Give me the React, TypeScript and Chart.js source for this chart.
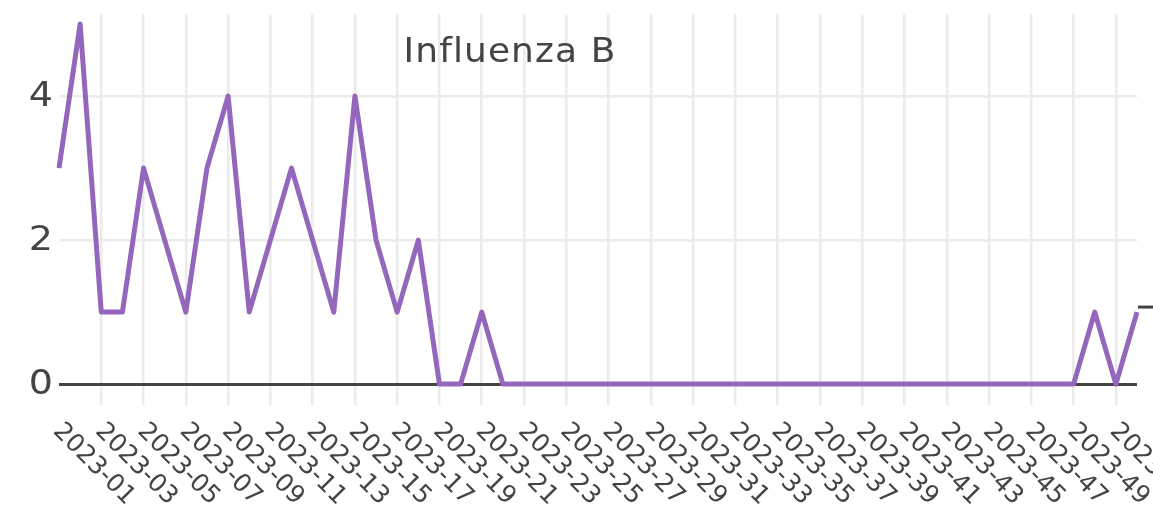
import React, { useEffect, useRef } from 'react';
import { Chart, registerables } from 'chart.js';

Chart.register(...registerables);

const weeks = [
  '2023-00', '2023-01', '2023-02', '2023-03', '2023-04', '2023-05', '2023-06', '2023-07',
  '2023-08', '2023-09', '2023-10', '2023-11', '2023-12', '2023-13', '2023-14', '2023-15',
  '2023-16', '2023-17', '2023-18', '2023-19', '2023-20', '2023-21', '2023-22', '2023-23',
  '2023-24', '2023-25', '2023-26', '2023-27', '2023-28', '2023-29', '2023-30', '2023-31',
  '2023-32', '2023-33', '2023-34', '2023-35', '2023-36', '2023-37', '2023-38', '2023-39',
  '2023-40', '2023-41', '2023-42', '2023-43', '2023-44', '2023-45', '2023-46', '2023-47',
  '2023-48', '2023-49', '2023-50', '2023-51',
];

const influenzaB = [
  3, 5, 1, 1, 3, 2, 1, 3, 4, 1, 2, 3, 2, 1, 4, 2,
  1, 2, 0, 0, 1, 0, 0, 0, 0, 0, 0, 0, 0, 0, 0, 0,
  0, 0, 0, 0, 0, 0, 0, 0, 0, 0, 0, 0, 0, 0, 0, 0,
  0, 1, 0, 1,
];

const yTickValues = [0, 2, 4];
const yMin = -0.29;
const yMax = 5.14;
const chartTitle = 'Influenza B';
const neighbourAxisValue = 1.07;

const TEXT = '#444';
const FONT = '"DejaVu Sans", Verdana, sans-serif';

const overlayPlugin = {
  id: 'overlay',
  afterDraw(chart: any) {
    const ctx = chart.ctx;
    const xs = chart.scales.x;
    const ys = chart.scales.y;
    const ca = chart.chartArea;
    ctx.save();
    ctx.fillStyle = TEXT;
    // rotated x tick labels (every other week)
    ctx.font = `25px ${FONT}`;
    ctx.textAlign = 'left';
    ctx.textBaseline = 'alphabetic';
    weeks.forEach((w, i) => {
      if (i % 2 !== 1) return;
      const x = xs.getPixelForValue(i);
      ctx.save();
      ctx.translate(x - 28, ca.bottom + 27);
      ctx.rotate(Math.PI / 4);
      ctx.fillText(w, 0, 0);
      ctx.restore();
    });
    // y tick labels
    ctx.font = `34px ${FONT}`;
    ctx.textAlign = 'right';
    ctx.textBaseline = 'middle';
    yTickValues.forEach((v) => {
      const y = ys.getPixelForValue(v);
      ctx.save();
      ctx.translate(ca.left - 6, y + 1);
      ctx.scale(1.12, 1);
      ctx.fillText(String(v), 0, 0);
      ctx.restore();
    });
    // title
    ctx.font = `33px ${FONT}`;
    ctx.textAlign = 'center';
    ctx.textBaseline = 'alphabetic';
    ctx.save();
    ctx.translate(510, 62);
    ctx.scale(1.09, 1);
    if ('letterSpacing' in ctx) (ctx as any).letterSpacing = '1px';
    ctx.fillText(chartTitle, 0, 0);
    ctx.restore();
    // neighbouring subplot axis fragment at the right edge
    const yy = ys.getPixelForValue(neighbourAxisValue);
    ctx.strokeStyle = TEXT;
    ctx.lineWidth = 3;
    ctx.beginPath();
    ctx.moveTo(ca.right + 1, yy);
    ctx.lineTo(chart.width, yy);
    ctx.stroke();
    ctx.restore();
  },
};

export default function App() {
  const ref = useRef<HTMLCanvasElement>(null);

  useEffect(() => {
    if (!ref.current) return;
    const chart = new Chart(ref.current, {
      type: 'line',
      data: {
        labels: weeks,
        datasets: [
          {
            label: chartTitle,
            data: influenzaB,
            borderColor: '#9467bd',
            backgroundColor: '#9467bd',
            borderWidth: 5,
            borderJoinStyle: 'round',
            pointRadius: 0,
            pointHoverRadius: 0,
            tension: 0,
            fill: false,
          },
        ],
      },
      options: {
        animation: false,
        responsive: false,
        devicePixelRatio: 1,
        layout: { padding: { top: 14, right: 16, left: 0, bottom: 0 } },
        plugins: {
          legend: { display: false },
          title: { display: false },
          tooltip: { enabled: false },
        },
        scales: {
          x: {
            type: 'category',
            z: -1,
            offset: false,
            border: { display: false },
            grid: {
              drawTicks: false,
              color: (c: any) => (c.index % 2 === 0 && c.index > 0 ? '#ebebeb' : 'rgba(0,0,0,0)'),
              lineWidth: 2.5,
            },
            ticks: { display: false, autoSkip: false },
            afterFit: (s: any) => {
              s.height = 114;
              s.paddingLeft = 0;
              s.paddingRight = 0;
            },
          },
          y: {
            min: yMin,
            max: yMax,
            border: { display: false },
            grid: {
              drawTicks: false,
              color: (c: any) => (c.tick && c.tick.value === 0 ? TEXT : '#ebebeb'),
              lineWidth: (c: any) => (c.tick && c.tick.value === 0 ? 3 : 2.5),
            },
            ticks: { display: false },
            afterBuildTicks: (s: any) => {
              s.ticks = yTickValues.map((v) => ({ value: v }));
            },
            afterFit: (s: any) => {
              s.width = 59;
              s.paddingTop = 0;
              s.paddingBottom = 0;
            },
          },
        },
      },
      plugins: [overlayPlugin],
    });
    return () => chart.destroy();
  }, []);

  return (
    <div style={{ position: 'fixed', left: 0, top: 0, width: 1153, height: 519, background: '#fff' }}>
      <canvas ref={ref} width={1153} height={519} style={{ width: '1153px', height: '519px', display: 'block' }} />
    </div>
  );
}
